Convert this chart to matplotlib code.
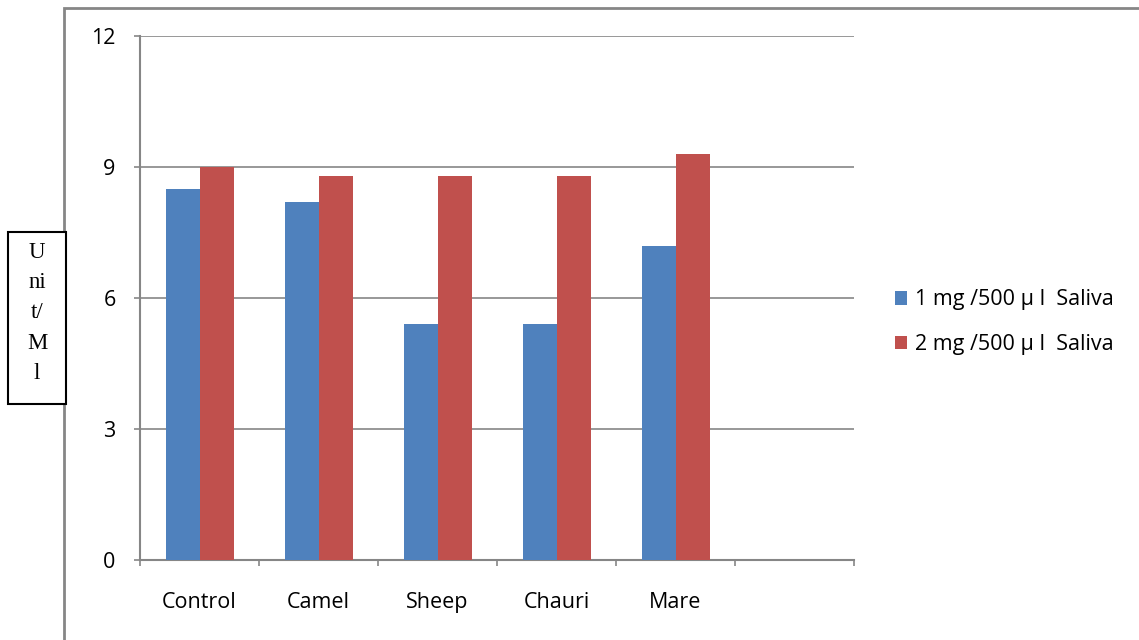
import numpy as np
import matplotlib.pyplot as plt
from matplotlib.patches import Rectangle

categories = ["Control", "Camel", "Sheep", "Chauri", "Mare", ""]
dose_1mg = [8.5, 8.2, 5.4, 5.4, 7.2, None]
dose_2mg = [9.0, 8.8, 8.8, 8.8, 9.3, None]
series_labels = ["1 mg /500 \u00b5 l  Saliva", "2 mg /500 \u00b5 l  Saliva"]
yticks = [0, 3, 6, 9, 12]

plt.rcParams['font.family'] = ['Open Sans', 'DejaVu Sans']
grey = '#868686'
fs = 15.5

fig = plt.figure(figsize=(11.39, 6.40), dpi=100)
ax = fig.add_axes([140/1139, 1-560/640, (854-140)/1139, (560-36)/640])

x = np.arange(len(categories))
w = 34/119
v1 = [v if v is not None else 0 for v in dose_1mg]
v2 = [v if v is not None else 0 for v in dose_2mg]
ax.bar(x[:5] - w/2, v1[:5], w, color='#4f81bd', label=series_labels[0], zorder=3)
ax.bar(x[:5] + w/2, v2[:5], w, color='#c0504d', label=series_labels[1], zorder=3)

ax.set_xlim(-0.5, len(categories) - 0.5)
ax.set_ylim(0, 12)
ax.set_yticks(yticks)
ax.set_yticklabels([str(t) for t in yticks], fontsize=fs)
ax.yaxis.grid(True, color=grey, linewidth=1.2, zorder=0)

ax.set_xticks(np.arange(len(categories) + 1) - 0.5, minor=False)
ax.set_xticklabels([])
ax.set_xticks(x, minor=True)
ax.set_xticklabels(categories, minor=True, fontsize=fs)
ax.tick_params(axis='x', which='minor', length=0, pad=23)
ax.tick_params(axis='x', which='major', length=4.5, color=grey, width=1.2, direction='out')
ax.tick_params(axis='y', length=4.5, color=grey, width=1.2, pad=13)

for s in ['top', 'right']:
    ax.spines[s].set_visible(False)
for s in ['left', 'bottom']:
    ax.spines[s].set_color(grey)
    ax.spines[s].set_linewidth(1.5)

leg = fig.legend(loc='upper left', bbox_to_anchor=(876/1139, 1-270/640),
                 frameon=False, fontsize=fs, handlelength=0.55, handleheight=0.6,
                 handletextpad=0.35, labelspacing=1.1)

# outer chart frame
fig.add_artist(Rectangle((64/1139, -0.05), 1.2, 1-8/640+0.05, transform=fig.transFigure,
                         fill=False, edgecolor=grey, linewidth=2))

# y-axis label in its own box
fig.add_artist(Rectangle((8/1139, 1-404/640), 58/1139, 172/640, transform=fig.transFigure,
                         facecolor='white', edgecolor='black', linewidth=1.5, zorder=5))
fig.text(37/1139, 1-313/640, "U\nni\nt/\nM\nl", ha='center', va='center',
         family='Liberation Serif', fontsize=16.5, linespacing=1.57, zorder=6)

fig.savefig('out.png', dpi=100)
